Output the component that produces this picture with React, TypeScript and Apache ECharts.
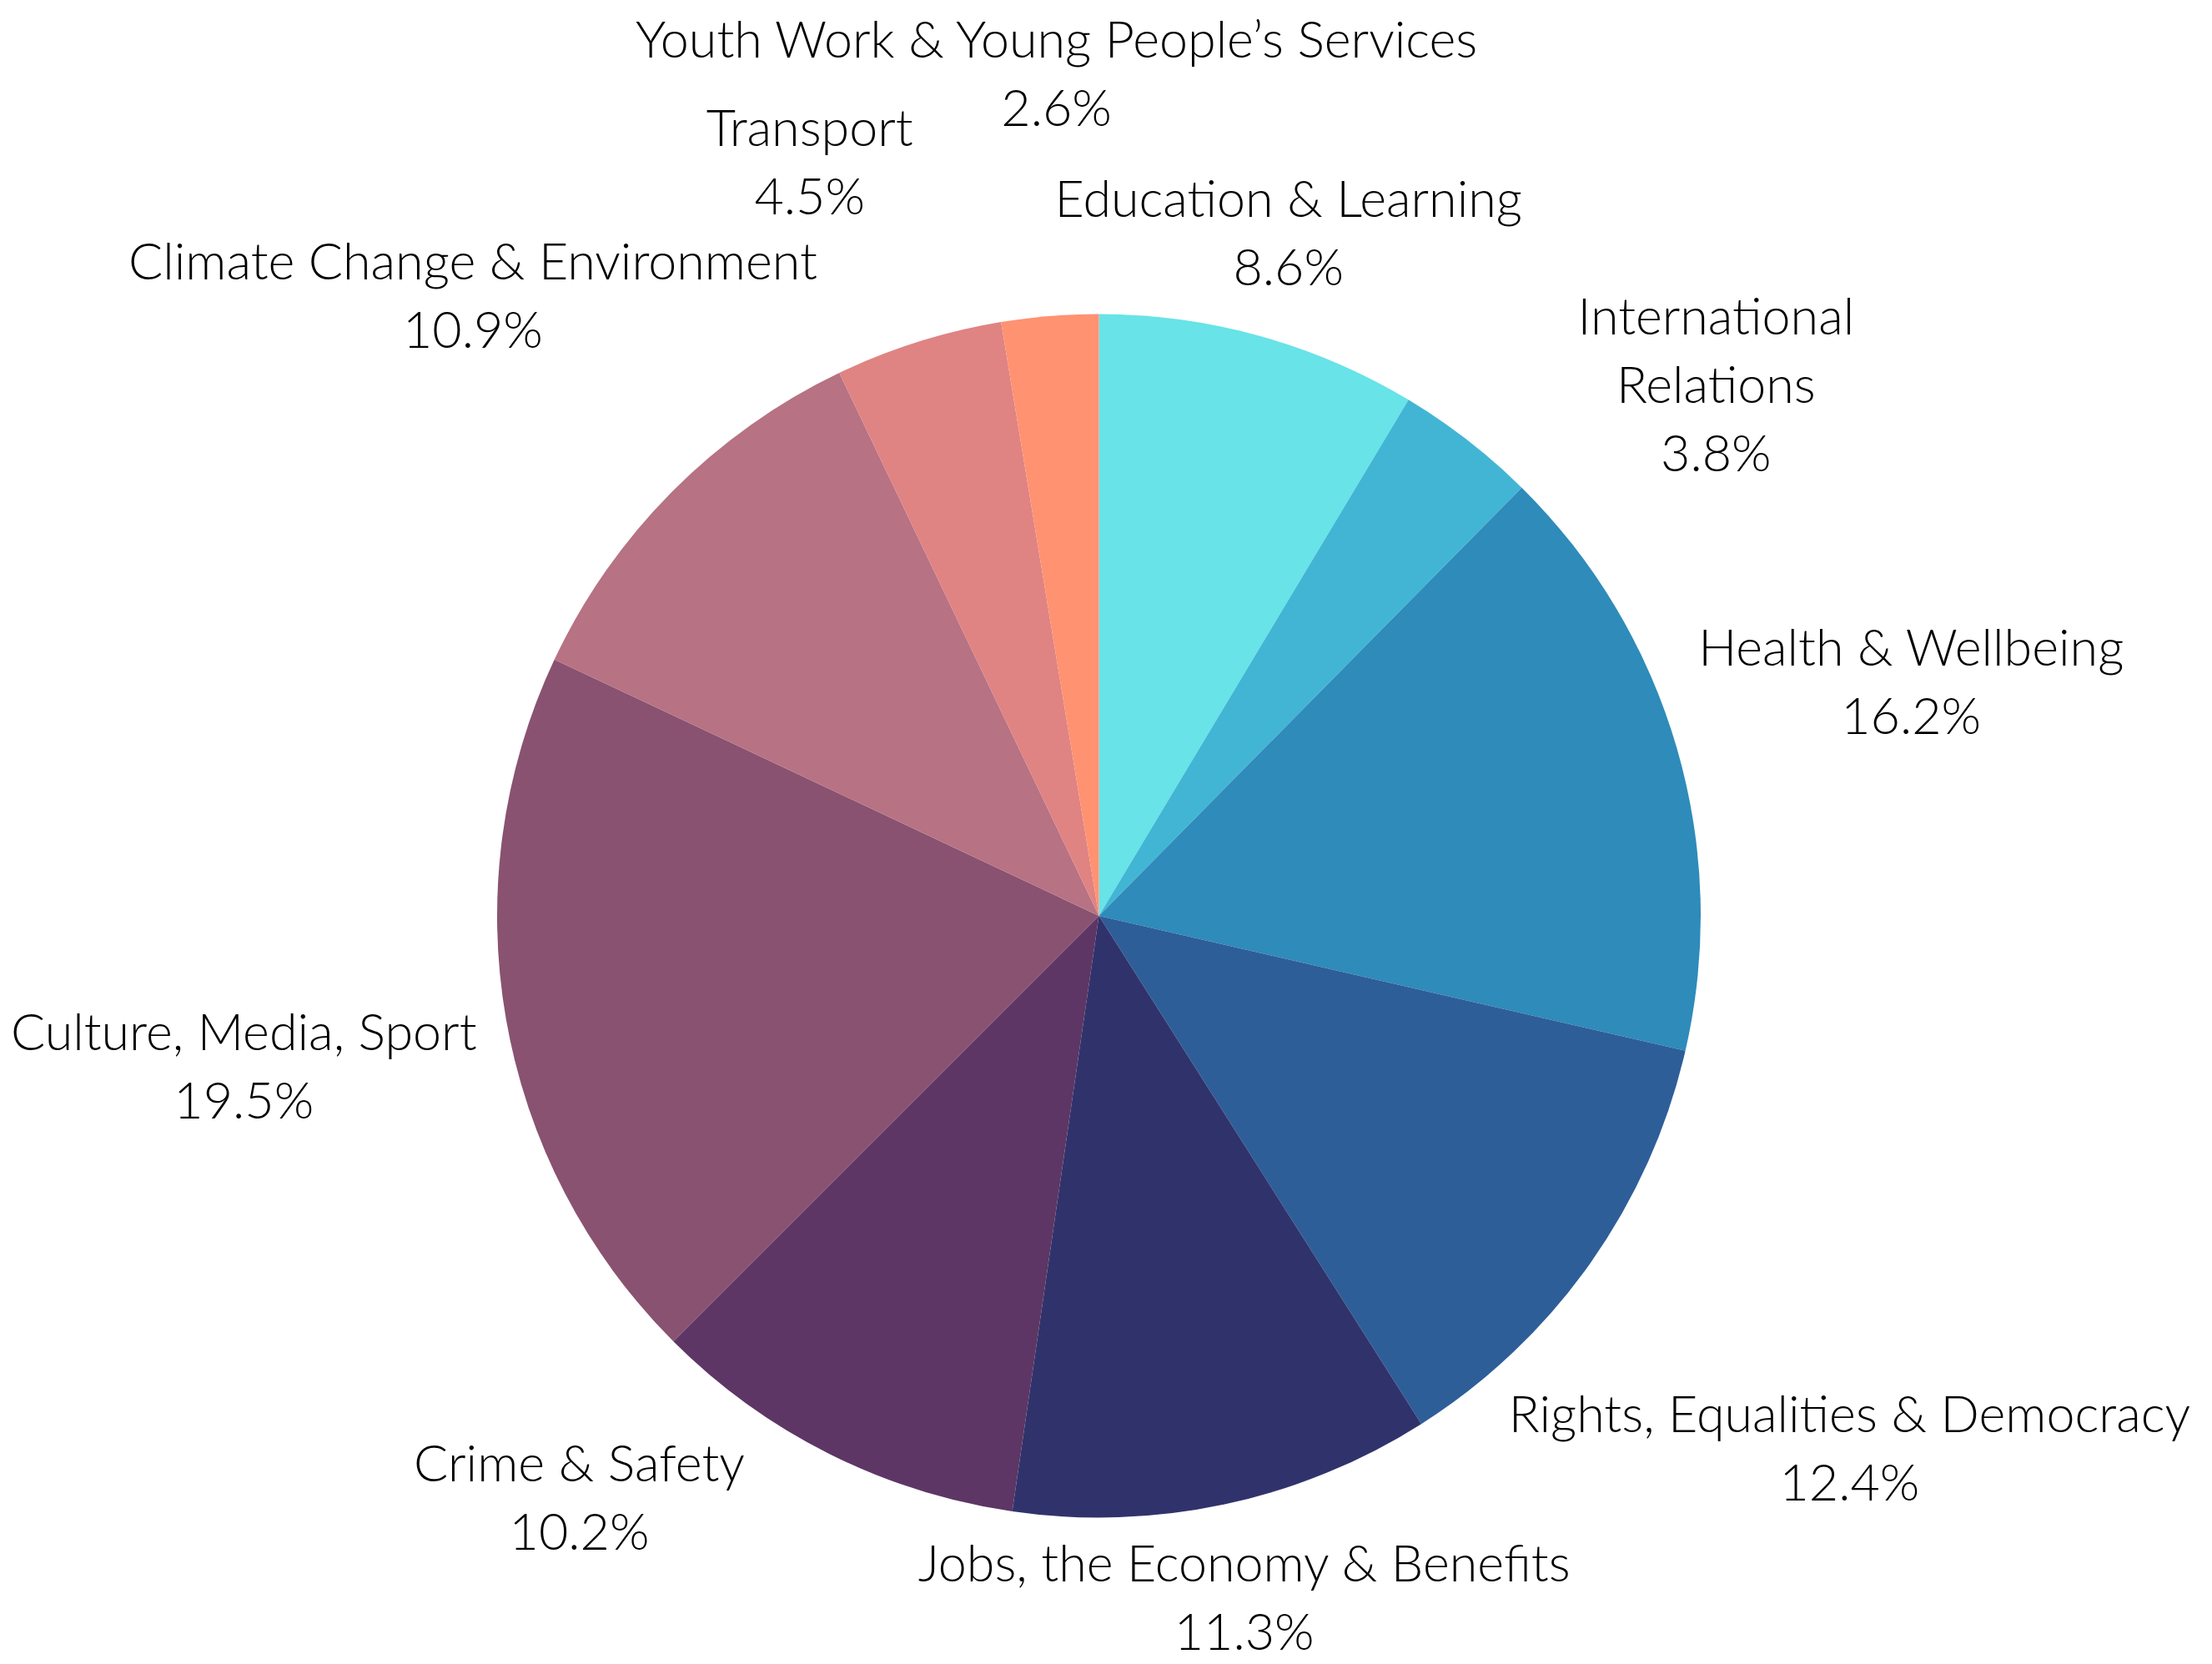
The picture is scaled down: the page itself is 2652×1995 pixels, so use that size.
import React, { useEffect, useRef } from "react";
import * as echarts from "echarts";

const CATEGORIES = [
  "Education & Learning",
  "International\nRelations",
  "Health & Wellbeing",
  "Rights, Equalities & Democracy",
  "Jobs, the Economy & Benefits",
  "Crime & Safety",
  "Culture, Media, Sport",
  "Climate Change & Environment",
  "Transport",
  "Youth Work & Young People\u2019s Services",
];

const SHARES = [8.6, 3.8, 16.2, 12.4, 11.3, 10.2, 19.5, 10.9, 4.5, 2.6];

const COLORS = [
  "#68E3E7",
  "#42B5D5",
  "#2E8BBA",
  "#2E5E98",
  "#30336B",
  "#5D3665",
  "#895270",
  "#B77283",
  "#E08383",
  "#FF9271",
];

// layout constants (label collision nudges, as in the reference)
const CX = 1317.5;
const CY = 1098;
const R = 721.5;
const LABEL_ANGLE_SHIFT = [0, 11.4, 0, 0, 0, 15.2, 0, 0, -3.5, 1.8];
const LABEL_DIST_SHIFT = [-24, 50, 24, 0, -50, 19, 30, -14, 127, 184];
const FONT = "Lato, 'Open Sans', sans-serif";

export default function App() {
  const ref = useRef<HTMLDivElement>(null);

  useEffect(() => {
    if (!ref.current) return;
    const chart = echarts.init(ref.current, null, { renderer: "svg" });
    const total = SHARES.reduce((a, b) => a + b, 0);
    const mids: number[] = [];
    let acc = 0;
    SHARES.forEach((v) => {
      mids.push(((acc + v / 2) / total) * 360);
      acc += v;
    });

    chart.setOption({
      animation: false,
      backgroundColor: "#ffffff",
      series: [
        {
          type: "pie",
          center: [CX, CY],
          radius: [0, R],
          startAngle: 90,
          clockwise: true,
          avoidLabelOverlap: false,
          data: CATEGORIES.map((name, i) => ({
            name,
            value: SHARES[i],
            itemStyle: { color: COLORS[i] },
          })),
          itemStyle: { borderWidth: 0 },
          emphasis: { disabled: true },
          label: {
            show: true,
            position: "outside",
            formatter: (p: any) => `${p.name}\n${Number(p.value).toFixed(1)}%`,
            fontFamily: FONT,
            fontSize: 61,
            fontWeight: 300,
            lineHeight: 82,
            color: "#000000",
            align: "center",
          },
          labelLine: { show: false },
          labelLayout: (params: any) => {
            const i = params.dataIndex;
            const a = ((mids[i] + LABEL_ANGLE_SHIFT[i]) * Math.PI) / 180;
            const ux = Math.sin(a);
            const uy = -Math.cos(a);
            const w = params.labelRect.width;
            const h = params.labelRect.height;
            const ext = (w / 2) * Math.abs(ux) + (h / 2) * Math.abs(uy);
            const d = R + ext + LABEL_DIST_SHIFT[i];
            return {
              x: CX + d * ux,
              y: CY + d * uy,
              align: "center",
              verticalAlign: "middle",
            };
          },
        },
      ],
    });
    return () => chart.dispose();
  }, []);

  return (
    <div
      ref={ref}
      style={{ position: "fixed", left: 0, top: 0, width: "100vw", height: "100vh" }}
    />
  );
}
